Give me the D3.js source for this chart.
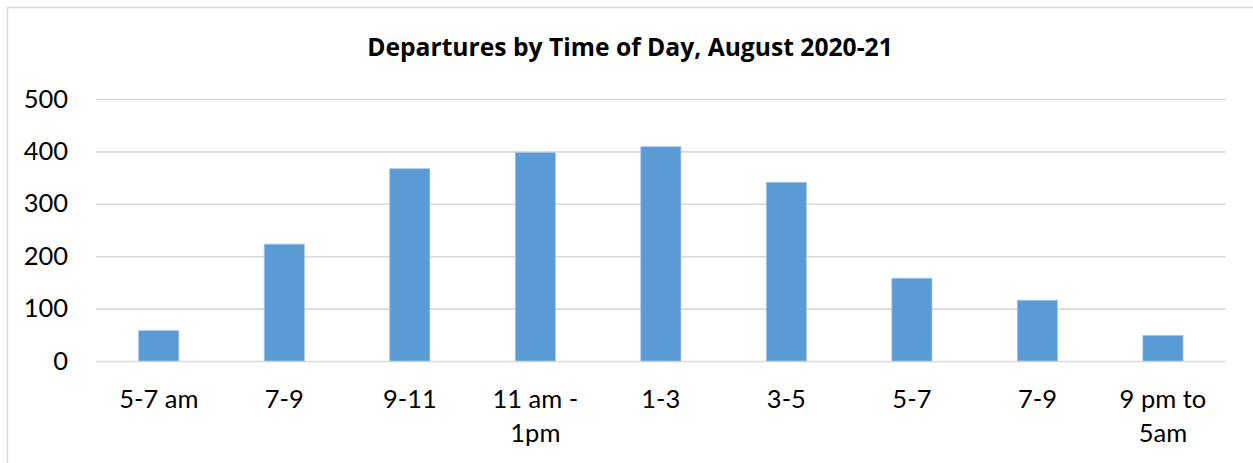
<!DOCTYPE html>
<html>
<head>
<meta charset="utf-8">
<script src="https://cdn.jsdelivr.net/npm/d3@7"></script>
<style>
  html, body { margin: 0; padding: 0; background: #fff; }
  svg { display: block; }
  text { font-family: Lato, "Open Sans", sans-serif; fill: #000; }
</style>
</head>
<body>
<script>
// Departures grouped by two-hour time-of-day windows
const categories = ["5-7 am", "7-9", "9-11", "11 am - 1pm", "1-3", "3-5", "5-7", "7-9 ", "9 pm to 5am"];
const categoryLines = [["5-7 am"], ["7-9"], ["9-11"], ["11 am -", "1pm"], ["1-3"], ["3-5"], ["5-7"], ["7-9"], ["9 pm to", "5am"]];
const departures = [58, 223, 367, 398, 409, 341, 158, 116, 49];
const yTicks = [0, 100, 200, 300, 400, 500];
const title = "Departures by Time of Day, August 2020-21";

const W = 1253, H = 463;
const plot = { left: 96, right: 1225.7, top: 99, bottom: 361 };
const labelSize = 25.5;

const svg = d3.select("body").append("svg")
  .attr("width", W).attr("height", H);

// chart frame
svg.append("rect")
  .attr("x", 7.5).attr("y", 7.5)
  .attr("width", W + 10).attr("height", H + 10)
  .attr("fill", "#fff")
  .attr("stroke", "#d9d9d9").attr("stroke-width", 1.5);

const x = d3.scaleBand()
  .domain(categories)
  .range([plot.left, plot.right])
  .paddingInner(0.68)
  .paddingOuter(0.34);

const y = d3.scaleLinear()
  .domain([0, 500])
  .range([plot.bottom, plot.top]);

// horizontal gridlines with value labels
const yAxis = d3.axisLeft(y)
  .tickValues(yTicks)
  .tickSize(-(plot.right - plot.left))
  .tickPadding(28);

const gy = svg.append("g")
  .attr("transform", `translate(${plot.left},0)`)
  .call(yAxis);
gy.select(".domain").remove();
gy.selectAll(".tick line")
  .attr("stroke", "#d9d9d9").attr("stroke-width", 1.6);
gy.selectAll(".tick text")
  .attr("font-size", labelSize)
  .attr("fill", "#000")
  .style("font-family", "Lato, 'Open Sans', sans-serif");

// bars
svg.append("g").selectAll("rect")
  .data(departures)
  .join("rect")
  .attr("x", (d, i) => x(categories[i]))
  .attr("width", x.bandwidth())
  .attr("y", d => y(d))
  .attr("height", d => y(0) - y(d))
  .attr("fill", "#5b9bd5")
  .attr("stroke", "#a9c8ea")
  .attr("stroke-width", 0.8);

// category labels, wrapped onto two lines where needed
const xAxis = d3.axisBottom(x).tickSize(0).tickFormat(() => "");
const gx = svg.append("g")
  .attr("transform", `translate(0,${plot.bottom})`)
  .call(xAxis);
gx.select(".domain").remove();
gx.selectAll(".tick").each(function(d, i) {
  const t = d3.select(this).append("text")
    .attr("text-anchor", "middle")
    .attr("font-size", labelSize)
    .style("font-family", "Lato, 'Open Sans', sans-serif")
    .attr("fill", "#000");
  categoryLines[i].forEach((line, k) => {
    t.append("tspan")
      .attr("x", 0)
      .attr("y", 47 + k * 34)
      .text(line);
  });
});

// title, sized to span its intended width
const titleText = svg.append("text")
  .attr("x", 630)
  .attr("y", 56)
  .attr("text-anchor", "middle")
  .attr("font-size", 22)
  .attr("font-weight", "bold")
  .style("font-family", "'Open Sans', Lato, sans-serif")
  .text(title);
const titleWidth = 526;
const natural = titleText.node().getComputedTextLength();
titleText.attr("font-size", 22 * titleWidth / natural);
</script>
</body>
</html>
